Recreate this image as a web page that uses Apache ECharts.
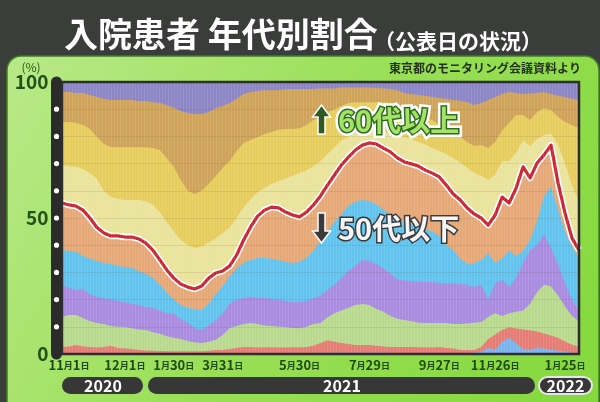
<!DOCTYPE html>
<html><head><meta charset="utf-8">
<script src="https://cdn.jsdelivr.net/npm/echarts@6/dist/echarts.min.js"></script>
<style>html,body{margin:0;padding:0;background:#3b3d3b;}#c{width:600px;height:402px;}</style>
</head><body><div id="c"></div><script>
// x-axis tick labels and the sample index where each one sits
const tickLabels = ['11月1日','12月1日','1月30日','3月31日','5月30日','7月29日','9月27日','11月26日','1月25日'];
const tickIndex  = [1, 9, 16, 23, 34, 44, 54, 62, 72];
const yearLabels = ['2020', '2021', '2022'];
const yDotValues = [10, 20, 30, 40, 50, 60, 70, 80, 90];
const ageNames = ['10歳未満','10代','20代','30代','40代','50代','60代','70代','80代','90代以上'];

// cumulative share (%) from the bottom up to and including each age group
const cumUnder10 = [0.4,0.4,0.4,0.3,0.3,0.3,0.4,0.4,0.3,0.3, 0.3,0.3,0.3,0.3,0.3,0.3,0.3,0.3,0.3,0.3, 0.3,0.3,0.3,0.3,0.3,0.4,0.4,0.4,0.4,0.4, 0.4,0.4,0.4,0.4,0.4,0.4,0.4,0.5,0.5,0.5, 0.5,0.5,0.5,0.5,0.5,0.5,0.5,0.4,0.4,0.4, 0.4,0.4,0.4,0.4,0.4,0.4,0.4,0.4,0.4,0.5, 0.8,2.2,1.6,4.5,6,4,1.8,1.6,2.2,2, 1.6,1.2,0.9,0.5,0.4];
const cumTo10s = [2.6,2.8,3.3,2.8,2.6,2.4,2.6,3,2.2,2, 1.8,1.5,1.3,1.2,1.1,1,1,1,1,1, 1,1.2,1.5,1.5,1.8,2.2,2.6,2.6,2.4,2.5, 2.5,2.4,2.4,2.5,2.5,2.6,3,4,5.1,4.5, 4,3.7,3.3,3.3,3.3,3,2.8,2.6,2.6,2.6, 2.6,2.5,2.5,2.4,2.6,2.2,2,1.5,1.5,1.5, 2.6,5.5,7.2,8.8,9.8,9.4,9,8.7,8.3,7.5, 6.8,6,4.6,3.4,2.8];
const cumTo20s = [13.6,14.3,14.3,13.2,12,11.4,11,10.3,10,9.9, 9.5,9,8.8,8,7.4,6.5,6,5.5,4.8,4.2, 4,4.5,5.2,7,9.6,10.3,11,11.4,11,10.5, 10.3,10,9.9,9.6,9.5,10,11,11.4,13.5,15, 16,17,18,18.4,18,16.5,15.5,14,13,12.5, 12,11.5,11.4,11.4,11.4,11.4,11,11,11.2,11.5, 11.8,13.6,15,14,15,15.5,16,18.5,22.8,25.5, 24.8,21.5,17.5,14,12];
const cumTo30s = [25.4,24.3,23.5,24,22,21,20.5,20,19.5,19, 18.5,18,17.3,17,16,15,14.7,13,11.5,9.5, 8.8,10.5,12.5,15,18.5,19.9,20.5,21,20.5,20.6, 20.2,20,19.5,19,19.1,19.5,20.6,21.5,23.5,25.5, 28,30.5,32.4,34.6,34.2,33,31.5,29.5,27.5,27, 26.8,26.5,26.5,26.5,26.1,26,25.8,25.7,25.5,24.6, 25.5,19.9,26,27.2,24.6,28,33.5,38.2,40,44, 39,33,26,20,16];
const cumTo40s = [38.2,37.9,37.5,36,35,34.2,33.5,33.1,32.4,32, 31.6,30.5,29.4,28,25.5,22.5,19.9,18,17,16.5, 16.2,18.5,22,25,28.5,31.5,33.5,34.6,35.3,35.3, 35,34.6,33.8,33.5,33.8,35.3,38,41.5,45,48.5, 51.5,54.4,56,56.6,56.2,55,53,51.5,49.6,48.5, 47.8,47,46,45,43.4,40,38.2,35,33,33.5, 34.6,37,33.5,35,38,36,38,42,49,58, 61.4,53,45,39.5,35];
const cumTo50s = [55.5,54.8,54.4,52.9,50,46.5,44.5,43.4,43.4,43, 43,42.3,40.8,38.2,34.6,30.9,27.9,25.7,24.6,23.9, 25,27.9,29.8,30.5,32.4,36.4,41.9,46.7,50.7,52.9, 54,53.7,52.2,51.1,50.4,52.2,54.8,58.1,62.1,65.8, 69.5,72.4,75,76.8,77.6,77.2,75.7,74.3,72.1,70.6, 69.9,69.1,67.6,66.5,65.1,62.1,58.8,56.6,53.7,51.5, 50,47.4,51.1,57.7,55.5,61,68.8,64.7,70.2,73.2, 76.8,62.9,51.8,42.6,38.2];
const cumTo60s = [69.5,69,68.8,68,66.5,64.3,60,57.7,57,56.6, 56.6,56.6,56.2,55,52,48.5,45,42,40,39, 39.5,41,42.5,44.5,46.5,50,54,57,59.5,61, 62.5,63.6,64.5,65.5,66.5,67.6,69,71,73.5,76, 78.5,80,81,81.6,82,82,81.6,81,80.5,79.8, 79,78,77,75.7,74.6,73.5,72,70.5,68.5,66.5, 65.5,64,66,71,71,74,78.5,76.5,79,80.5, 81,77,70,62,56];
const cumTo70s = [85.3,85.3,84.9,84.2,82.7,79.8,77.2,76.1,76,76, 76,76,76,75.7,75,72,68.8,64,60,58.8, 60,62.5,65.4,68.4,71,74.6,77.6,78.7,79.8,80.9, 81.6,82.4,82.7,82.7,83,84.2,86,87.1,89,90, 91.2,92.3,92.6,92.6,92.6,92.6,92.6,92.3,91.9,89.7, 88.2,87.5,86.8,86,84.2,83,81.6,79.8,77.9,76.5, 76.8,75.7,77.9,82.3,84.9,87.9,87.9,86,89,90.4, 89.7,87.1,85.3,84.2,83];
const cumTo80s = [96.3,96.3,96,96,95.2,94.5,93.8,93.4,93.4,93.4, 93.4,93,93,92.6,92.3,91.5,90.4,89.3,88.6,88.2, 88.2,89,90.4,91.2,92.3,93.8,95.6,96.3,96.7,97, 97,97,97.4,97.4,97.4,97.4,97.4,97.6,97.6,97.6, 98,98,98,98,98,97.8,97.6,97.4,97,96, 95.5,95.2,94.9,94.5,94.1,93.8,93.4,93.1,92.6,91.5, 92.3,93.4,94.5,95.6,96.3,96,95.6,95.8,96,96.3, 95.6,94.9,94.5,93.8,93.4];

const colors = ['#7ab4ec','#e67d74','#b9da8e','#a98be0','#62c3ee','#e6a877','#eae39c','#e6cd5e','#cfa45a','#8d86c6'];

const N = cumTo50s.length;
const categories = Array.from({length: N}, (_, i) => String(i));
const labelAt = {};
tickIndex.forEach((k, j) => { labelAt[k] = tickLabels[j]; });
const fmt = s => s.replace(/(\d+)/g, '{n|$1}').replace(/([月日])/g, '{u|$1}');

const G = {left: 62, top: 82, right: 579, bottom: 354};
const AXIS_X = 56.5;
const cjk = '"Noto Sans CJK JP", sans-serif';

// layers drawn top-down, each filled from 0 up to its cumulative boundary
const bounds = [cumTo80s, cumTo70s, cumTo60s, cumTo50s, cumTo40s, cumTo30s, cumTo20s, cumTo10s, cumUnder10];
const series = bounds.map((d, k) => ({
  name: ageNames[8 - k], type: 'line', data: d, symbol: 'none', smooth: false,
  lineStyle: {width: 0}, areaStyle: {color: colors[8 - k], opacity: 1}, silent: true
}));
series.push({
  type: 'line', data: cumTo50s, symbol: 'none', silent: true,
  lineStyle: {color: '#ffffff', width: 6.5, join: 'round'},
  markLine: {silent: true, symbol: 'none', label: {show: false},
    lineStyle: {color: 'rgba(90,70,30,0.12)', width: 1, type: 'solid'},
    data: yDotValues.map(v => ({yAxis: v}))}
});
series.push({
  type: 'line', data: cumTo50s, symbol: 'none', silent: true,
  lineStyle: {color: '#cc2430', width: 3.2, join: 'round'}
});

// stripe texture
const pc = document.createElement('canvas');
pc.width = 3; pc.height = 4;
const pctx = pc.getContext('2d');
pctx.fillStyle = 'rgba(255,255,255,0.10)';
pctx.fillRect(0, 0, 1, 4);

function arrow(up, x, y0, y1, fill) {
  const cx = x, hw = 9, sw = 3.5, hh = 12;
  let pts;
  if (up) pts = [[cx, y0], [cx + hw, y0 + hh], [cx + sw, y0 + hh], [cx + sw, y1], [cx - sw, y1], [cx - sw, y0 + hh], [cx - hw, y0 + hh]];
  else pts = [[cx, y1], [cx + hw, y1 - hh], [cx + sw, y1 - hh], [cx + sw, y0], [cx - sw, y0], [cx - sw, y1 - hh], [cx - hw, y1 - hh]];
  return {type: 'polygon', z: 100, shape: {points: pts}, style: {fill: fill, stroke: '#ffffff', lineWidth: 1.5}};
}

const pillY = 377, pillH = 17;
const graphics = [
  {type: 'rect', z: -100, shape: {x: 7, y: 56, width: 592, height: 360, r: [14, 14, 0, 0]},
    style: {fill: new echarts.graphic.LinearGradient(0, 0, 1, 1, [{offset: 0, color: '#b9e988'}, {offset: 0.5, color: '#98df55'}, {offset: 1, color: '#84d83c'}]), stroke: '#3f7d26', lineWidth: 1.5}},
  {type: 'rect', z: 60, silent: true, shape: {x: G.left, y: G.top, width: G.right - G.left, height: G.bottom - G.top},
    style: {fill: {image: pc, repeat: 'repeat'}}},
  {type: 'rect', z: 61, shape: {x: G.left, y: G.top, width: G.right - G.left, height: G.bottom - G.top},
    style: {fill: 'none', stroke: '#2e2e2e', lineWidth: 2.5}},
  {type: 'text', z: 100, style: {text: '入院患者 年代別割合', x: 64, y: 34, verticalAlign: 'middle', fill: '#ffffff', fontSize: 34, fontWeight: 'bold', fontFamily: cjk}},
  {type: 'text', z: 100, style: {text: '（公表日の状況）', x: 374, y: 41, verticalAlign: 'middle', fill: '#ffffff', fontSize: 21, fontWeight: 'bold', fontFamily: cjk}},
  {type: 'text', z: 100, style: {text: '東京都のモニタリング会議資料より', x: 581, y: 68, align: 'right', verticalAlign: 'middle', fill: '#24321c', fontSize: 12, fontWeight: 'bold', fontFamily: cjk}},
  {type: 'text', z: 100, style: {text: '(%)', x: 31, y: 67, align: 'center', verticalAlign: 'middle', fill: '#2a5a1a', fontSize: 12, fontFamily: cjk}},
  arrow(true, 321.5, 105, 134, '#2e5a24'),
  {type: 'text', z: 100, style: {text: '60代以上', x: 338, y: 121, verticalAlign: 'middle', fill: '#ffffff', stroke: '#ffffff', lineWidth: 8, fontSize: 29, fontWeight: 'bold', fontFamily: cjk}},
  {type: 'text', z: 101, style: {text: '60代以上', x: 338, y: 121, verticalAlign: 'middle', fill: '#a6e26a', stroke: '#2c6a1c', lineWidth: 3, strokeFirst: true, fontSize: 29, fontWeight: 'bold', fontFamily: cjk}},
  arrow(false, 321.5, 213, 243, '#3a3a3a'),
  {type: 'text', z: 100, style: {text: '50代以下', x: 338, y: 229, verticalAlign: 'middle', fill: '#f6f6f6', stroke: '#3a3a3a', lineWidth: 3, strokeFirst: true, fontSize: 29, fontWeight: 'bold', fontFamily: cjk}},
  {type: 'rect', z: 100, shape: {x: 62, y: pillY, width: 81, height: pillH, r: pillH / 2}, style: {fill: '#373737'}},
  {type: 'text', z: 101, style: {text: yearLabels[0], x: 103, y: pillY + pillH / 2 + 0.5, align: 'center', verticalAlign: 'middle', fill: '#ffffff', fontSize: 16, fontWeight: 'bold', fontFamily: cjk}},
  {type: 'rect', z: 100, shape: {x: 148, y: pillY, width: 387, height: pillH, r: pillH / 2}, style: {fill: '#373737'}},
  {type: 'text', z: 101, style: {text: yearLabels[1], x: 342, y: pillY + pillH / 2 + 0.5, align: 'center', verticalAlign: 'middle', fill: '#ffffff', fontSize: 16, fontWeight: 'bold', fontFamily: cjk}},
  {type: 'rect', z: 100, shape: {x: 539, y: pillY, width: 53, height: pillH, r: pillH / 2}, style: {fill: '#373737', stroke: '#e6e6e6', lineWidth: 2}},
  {type: 'text', z: 101, style: {text: yearLabels[2], x: 565.5, y: pillY + pillH / 2 + 0.5, align: 'center', verticalAlign: 'middle', fill: '#ffffff', fontSize: 16, fontWeight: 'bold', fontFamily: cjk}}
];

const chart = echarts.init(document.getElementById('c'), null, {renderer: 'canvas'});
chart.setOption({
  backgroundColor: '#3b3d3b',
  animation: false,
  grid: {left: G.left, top: G.top, right: 600 - G.right, bottom: 402 - G.bottom, show: true, backgroundColor: colors[9], borderWidth: 0},
  xAxis: {
    type: 'category', data: categories, boundaryGap: false,
    axisLine: {show: false}, axisTick: {show: false}, splitLine: {show: false},
    axisLabel: {
      interval: (i) => labelAt[i] !== undefined,
      formatter: (v, i) => fmt(labelAt[i] || ''),
      margin: 5,
      rich: {
        n: {fontSize: 13, fontWeight: 'bold', color: '#1f4a14', fontFamily: cjk},
        u: {fontSize: 9, fontWeight: 'bold', color: '#1f4a14', fontFamily: cjk}
      }
    }
  },
  yAxis: {
    type: 'value', min: 0, max: 100, interval: 10, offset: G.left - AXIS_X,
    axisLine: {show: true, lineStyle: {color: '#2b2b2b', width: 11}},
    axisTick: {show: false},
    axisLabel: {customValues: [0, 50, 100], margin: 8, color: '#24501a', fontSize: 19, fontWeight: 'bold', fontFamily: cjk},
    splitLine: {show: false}
  },
  series: series,
  graphic: {elements: graphics}
});

// white dots on the thick y-axis bar, placed through the y scale
const dots = yDotValues.map((v, k) => ({
  type: 'circle', id: 'dot' + k, z: 120,
  shape: {cx: AXIS_X, cy: chart.convertToPixel({yAxisIndex: 0}, v), r: 2.6},
  style: {fill: '#ffffff'}
}));
chart.setOption({graphic: {elements: dots}});
</script></body></html>
